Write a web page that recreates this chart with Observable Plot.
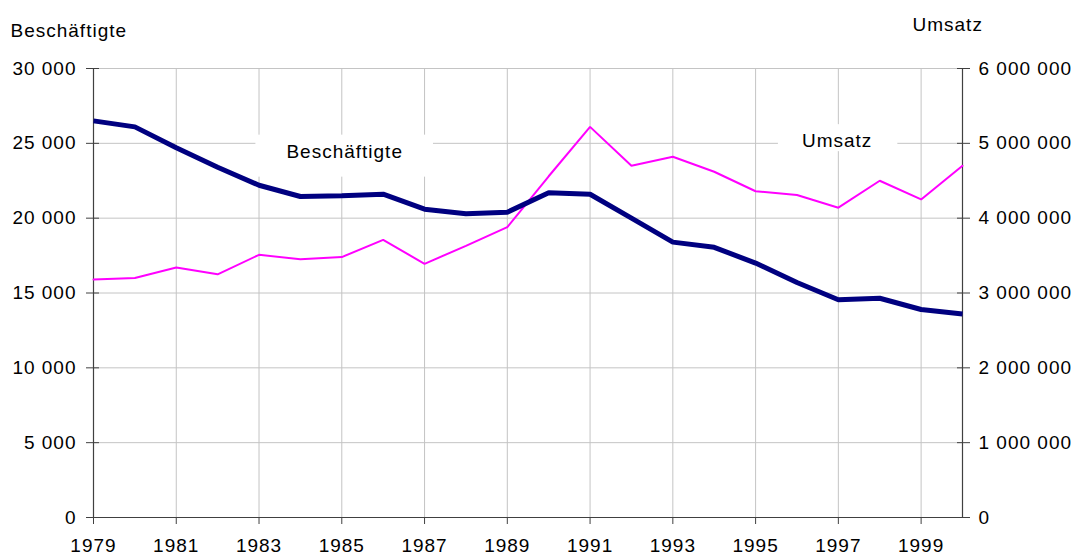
<!DOCTYPE html>
<html>
<head>
<meta charset="utf-8">
<script src="https://cdn.jsdelivr.net/npm/d3@7"></script>
<script src="https://cdn.jsdelivr.net/npm/@observablehq/plot@0.6"></script>
<style>
  html, body { margin: 0; padding: 0; background: #fff; }
  #chart { width: 1074px; height: 556px; overflow: hidden; }
</style>
</head>
<body>
<div id="chart"></div>
<script>
// ---- data ----
const years = [1979, 1980, 1981, 1982, 1983, 1984, 1985, 1986, 1987, 1988, 1989,
               1990, 1991, 1992, 1993, 1994, 1995, 1996, 1997, 1998, 1999, 2000];
const beschaeftigte = [26500, 26100, 24700, 23400, 22200, 21450, 21500, 21600, 20600, 20300, 20400,
                       21700, 21600, 20000, 18400, 18050, 17000, 15700, 14550, 14650, 13900, 13600];
const umsatz = [3180000, 3200000, 3340000, 3250000, 3510000, 3450000, 3480000, 3710000, 3390000, 3630000, 3880000,
                4560000, 5220000, 4700000, 4820000, 4620000, 4360000, 4310000, 4140000, 4500000, 4250000, 4700000];
const xTicks = [1979, 1981, 1983, 1985, 1987, 1989, 1991, 1993, 1995, 1997, 1999];
const leftTicks = [0, 5000, 10000, 15000, 20000, 25000, 30000];
const rightTicks = [0, 1000000, 2000000, 3000000, 4000000, 5000000, 6000000];
const axisTitles = ["Beschäftigte", "Umsatz"];
const labelNames = ["Beschäftigte", "Umsatz"];
const labelYears = [1985.07, 1996.97];
const labelValues = [24450, 25150];   // positions on the left (Beschäftigte) scale
const ratio = 200;                    // Umsatz scale = Beschäftigte scale × 200

const rows = years.map((year, i) => ({year, beschaeftigte: beschaeftigte[i], umsatz: umsatz[i]}));
const fmt = d => d3.format(",")(d).replace(/,/g, " ");

const axisColor = "#404040";
const gridColor = "#c4c4c4";

const chart = Plot.plot({
  width: 1074,
  height: 556,
  marginLeft: 93,
  marginRight: 112,
  marginTop: 68,
  marginBottom: 39,
  style: "font-family: 'Liberation Sans', Arial, sans-serif; font-size: 19px; letter-spacing: 1px; background: white; color: black; overflow: visible;",
  x: {domain: [1979, 2000]},
  y: {domain: [0, 30000]},
  marks: [
    Plot.gridY(leftTicks.slice(1), {stroke: gridColor, strokeOpacity: 1}),
    Plot.gridX(xTicks.slice(1), {stroke: gridColor, strokeOpacity: 1}),
    Plot.text(labelNames, {
      x: (d, i) => labelYears[i], y: (d, i) => labelValues[i], text: d => d,
      fill: "black", lineAnchor: "middle", ariaDescription: "boxed"
    }),
    Plot.ruleY([0], {stroke: axisColor, strokeWidth: 1.2}),
    Plot.ruleX([1979], {stroke: axisColor, strokeWidth: 1.2}),
    Plot.ruleX([2000], {stroke: axisColor, strokeWidth: 1.2}),
    Plot.line(rows, {x: "year", y: d => d.umsatz / ratio, stroke: "#ff00ff", strokeWidth: 2, strokeLinejoin: "miter"}),
    Plot.line(rows, {x: "year", y: "beschaeftigte", stroke: "#000080", strokeWidth: 5, strokeLinejoin: "miter", strokeLinecap: "butt"}),
    // x axis
    Plot.axisX(xTicks, {tickSize: 7, tickPadding: 14, tickFormat: d => String(d), label: null, stroke: axisColor, fill: "black"}),
    // left axis: crossing ticks + labels
    Plot.axisY(leftTicks, {anchor: "left", tickSize: 13, dx: 6, tickFormat: () => "", label: null, stroke: axisColor}),
    Plot.axisY(leftTicks, {anchor: "left", tickSize: 0, tickPadding: 17, tickFormat: fmt, label: null, fill: "black"}),
    // right axis (Umsatz)
    Plot.axisY(rightTicks.map(v => v / ratio), {anchor: "right", tickSize: 13, dx: -6, tickFormat: () => "", label: null, stroke: axisColor}),
    Plot.axisY(rightTicks.map(v => v / ratio), {anchor: "right", tickSize: 0, tickPadding: 16, tickFormat: d => fmt(d * ratio), label: null, fill: "black"}),
    // axis titles
    Plot.text([axisTitles[0]], {frameAnchor: "top-left", dx: -83, dy: -38, textAnchor: "start", lineAnchor: "middle", fill: "black"}),
    Plot.text([axisTitles[1]], {frameAnchor: "top-right", dx: -50, dy: -44, textAnchor: "start", lineAnchor: "middle", fill: "black"})
  ]
});

document.getElementById("chart").appendChild(chart);

// white boxes behind the in-chart series labels
const boxPad = [[31, 30, 6, 15], [24, 25, 6, 0]]; // left, right, top, bottom
const g = chart.querySelector('g[aria-description="boxed"]');
if (g) {
  const texts = Array.from(g.querySelectorAll("text"));
  texts.forEach((t, i) => {
    const b = t.getBBox();
    const p = boxPad[i] || [20, 20, 5, 5];
    const r = document.createElementNS("http://www.w3.org/2000/svg", "rect");
    r.setAttribute("x", b.x - p[0]);
    r.setAttribute("y", b.y - p[2]);
    r.setAttribute("width", b.width + p[0] + p[1]);
    r.setAttribute("height", b.height + p[2] + p[3]);
    r.setAttribute("fill", "white");
    r.setAttribute("stroke", "none");
    const tr = t.getAttribute("transform");
    if (tr) r.setAttribute("transform", tr);
    g.insertBefore(r, t);
  });
}
</script>
</body>
</html>
